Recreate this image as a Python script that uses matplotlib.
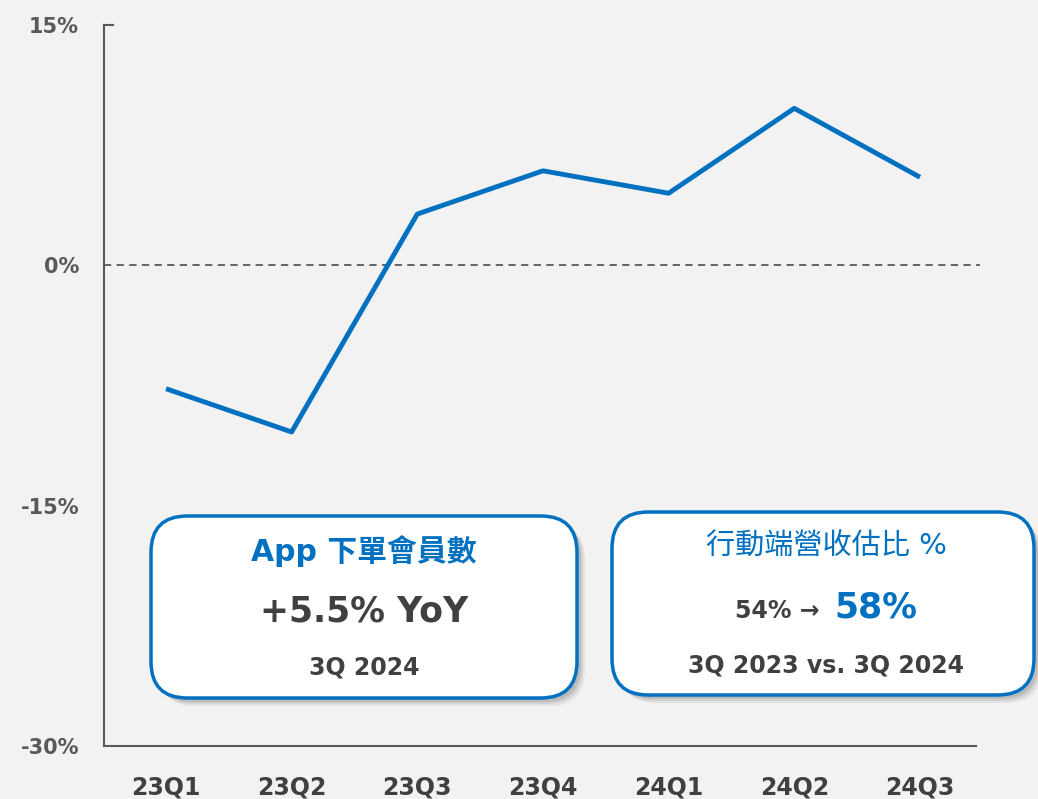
import matplotlib.pyplot as plt
from matplotlib.patches import FancyBboxPatch

quarters = ['23Q1', '23Q2', '23Q3', '23Q4', '24Q1', '24Q2', '24Q3']
growth = [-7.7, -10.4, 3.2, 5.9, 4.5, 9.8, 5.5]
y_ticks = [-30, -15, 0, 15]
y_labels = ['-30%', '-15%', '0%', '15%']

W, H = 1038, 799
BLUE = '#0070C0'
GRAY = '#595959'
DARK = '#404040'
BG = '#F2F2F2'

plt.rcParams['font.family'] = ['DejaVu Sans', 'Noto Sans CJK TC']

fig = plt.figure(figsize=(W / 100, H / 100), dpi=100, facecolor=BG)
ax = fig.add_axes([104 / W, 1 - 746 / H, (976 - 104) / W, (746 - 25) / H])
ax.set_facecolor(BG)

ax.plot(range(len(quarters)), growth, color=BLUE, lw=3.5, solid_capstyle='butt', zorder=3)
ax.axhline(0, color=GRAY, lw=1.3, ls=(0, (4, 3)), xmax=1.005, clip_on=False)

ax.set_xlim(-0.493, 6.446)
ax.set_ylim(-30, 15)
ax.set_xticks(range(len(quarters)))
ax.set_xticklabels(quarters)
ax.set_yticks(y_ticks)
ax.set_yticklabels(y_labels)
ax.tick_params(axis='x', length=0, pad=21, labelsize=17, labelcolor=DARK)
ax.tick_params(axis='y', length=0, pad=18, labelsize=15, labelcolor=GRAY)
for lbl in ax.get_xticklabels() + ax.get_yticklabels():
    lbl.set_fontweight('bold')
for s in ['top', 'right']:
    ax.spines[s].set_visible(False)
for s in ['left', 'bottom']:
    ax.spines[s].set_color(GRAY)
    ax.spines[s].set_linewidth(1.5)
# short cap at top of the y axis
ax.plot([-0.493, -0.42], [15, 15], color=GRAY, lw=1.5, clip_on=False)


def fx(x):
    return x / W


def fy(y):
    return 1 - y / H


def card(x0, y0, x1, y1):
    # soft shadow
    for i, a in enumerate([0.06, 0.08, 0.10]):
        off = 8 - i * 2
        sh = FancyBboxPatch((fx(x0 + off), fy(y1 + off)), fx(x1 - x0), (y1 - y0) / H,
                            boxstyle='round,pad=0,rounding_size=0.035',
                            transform=fig.transFigure, facecolor='black', edgecolor='none',
                            alpha=a, mutation_aspect=W / H, zorder=4)
        fig.patches.append(sh)
    box = FancyBboxPatch((fx(x0), fy(y1)), fx(x1 - x0), (y1 - y0) / H,
                         boxstyle='round,pad=0,rounding_size=0.035',
                         transform=fig.transFigure, facecolor='white', edgecolor=BLUE,
                         lw=2.5, mutation_aspect=W / H, zorder=5)
    fig.patches.append(box)


card(151, 516, 577, 698)
card(612, 512, 1034, 695)

# left card
fig.text(fx(364), fy(551), 'App 下單會員數', color=BLUE, fontsize=21.5, fontweight='bold',
         ha='center', va='center', zorder=6)
fig.text(fx(364), fy(612), '+5.5% YoY', color=DARK, fontsize=25, fontweight='bold',
         ha='center', va='center', zorder=6)
fig.text(fx(364), fy(668), '3Q 2024', color=DARK, fontsize=17, fontweight='bold',
         ha='center', va='center', zorder=6)

# right card
fig.text(fx(826), fy(547), '行動端營收估比 %', color=BLUE, fontsize=21,
         ha='center', va='center', zorder=6)
fig.text(fx(828), fy(611), '54% → ', color=DARK, fontsize=17, fontweight='bold',
         ha='right', va='center', zorder=6)
fig.text(fx(834), fy(607), '58%', color=BLUE, fontsize=25, fontweight='bold',
         ha='left', va='center', zorder=6)
fig.text(fx(826), fy(665), '3Q 2023 vs. 3Q 2024', color=DARK, fontsize=17, fontweight='bold',
         ha='center', va='center', zorder=6)

fig.savefig('out.png', dpi=100, facecolor=BG)
